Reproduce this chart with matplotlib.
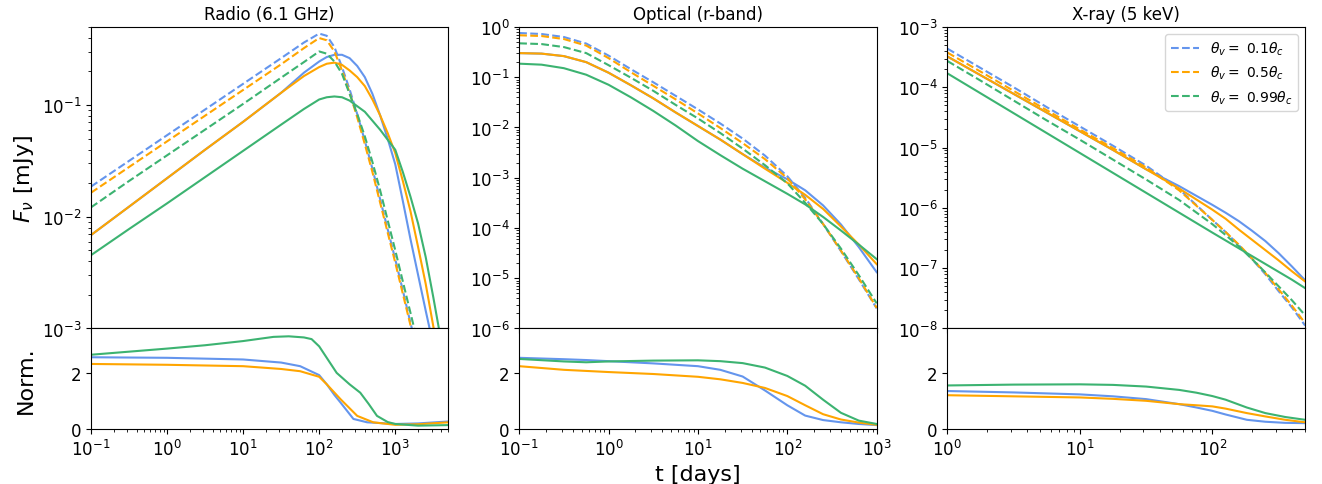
import numpy as np
import matplotlib.pyplot as plt

# colours for the three viewing angles
colors = ['cornflowerblue', 'orange', 'mediumseagreen']
labels = [r'$\theta_v = $ 0.1$\theta_c$', r'$\theta_v = $ 0.5$\theta_c$', r'$\theta_v = $ 0.99$\theta_c$']

# ---- Radio (6.1 GHz), log10(t/days) and log10(F/mJy)
t_radio = [-1, -0.5, 0, 0.5, 1, 1.5, 1.8, 2.0, 2.1, 2.2, 2.3, 2.4, 2.5, 2.6, 2.7, 2.8,
           2.9, 3.0, 3.1, 3.2, 3.3, 3.4, 3.5, 3.6, 3.7]
radio_dash_blue = [-1.73, -1.50, -1.27, -1.04, -0.81, -0.58, -0.44, -0.36, -0.38, -0.48, -0.66,
                   -0.86, -1.08, -1.32, -1.57, -1.84, -2.11, -2.38, -2.66, -2.95, -3.22, -3.5,
                   -3.8, -4.1, -4.4]
radio_dash_orange = [-1.785, -1.555, -1.325, -1.095, -0.865, -0.635, -0.49, -0.40, -0.42, -0.52,
                     -0.69, -0.89, -1.11, -1.35, -1.60, -1.87, -2.14, -2.41, -2.69, -2.97, -3.24,
                     -3.5, -3.8, -4.1, -4.4]
radio_dash_green = [-1.916, -1.68, -1.45, -1.22, -0.99, -0.755, -0.615, -0.52, -0.54, -0.61, -0.72,
                    -0.90, -1.08, -1.28, -1.51, -1.76, -2.03, -2.30, -2.58, -2.86, -3.14, -3.42,
                    -3.7, -4.0, -4.3]
radio_solid_blue = [-2.164, -1.91, -1.655, -1.40, -1.15, -0.89, -0.71, -0.61, -0.57, -0.55, -0.55,
                    -0.58, -0.65, -0.75, -0.90, -1.09, -1.30, -1.53, -1.86, -2.20, -2.52, -2.84,
                    -3.15, -3.5, -3.8]
radio_solid_orange = [-2.164, -1.91, -1.655, -1.40, -1.15, -0.89, -0.74, -0.66, -0.63, -0.62, -0.64,
                      -0.69, -0.75, -0.83, -0.95, -1.09, -1.25, -1.43, -1.68, -1.95, -2.27, -2.6,
                      -2.98, -3.35, -3.7]
radio_solid_green = [-2.344, -2.11, -1.88, -1.645, -1.41, -1.175, -1.035, -0.95, -0.93, -0.923,
                     -0.93, -0.96, -1.01, -1.06, -1.14, -1.22, -1.31, -1.40, -1.60, -1.82, -2.06,
                     -2.36, -2.72, -3.1, -3.45]

# radio normalised ratio
tr_radio_blue = [-1, 0, 1, 1.5, 1.75, 2.0, 2.1, 2.2, 2.28, 2.45, 2.63, 3.0, 3.3, 3.7]
ratio_radio_blue = [2.57, 2.55, 2.49, 2.38, 2.25, 1.93, 1.6, 1.22, 0.95, 0.36, 0.24, 0.18, 0.2, 0.27]
tr_radio_orange = [-1, 0, 1, 1.5, 1.75, 2.0, 2.1, 2.28, 2.5, 2.71, 3.0, 3.3, 3.7]
ratio_radio_orange = [2.33, 2.30, 2.25, 2.15, 2.07, 1.87, 1.6, 1.07, 0.47, 0.24, 0.15, 0.17, 0.24]
tr_radio_green = [-1, -0.5, 0, 0.5, 1.0, 1.4, 1.6, 1.8, 1.9, 2.0, 2.23, 2.4, 2.54, 2.65, 2.76,
                  2.9, 3.0, 3.3, 3.7]
ratio_radio_green = [2.66, 2.77, 2.88, 3.0, 3.15, 3.30, 3.32, 3.28, 3.22, 2.96, 2.01, 1.6, 1.30,
                     0.9, 0.47, 0.25, 0.18, 0.12, 0.14]

# ---- Optical (r-band)
t_opt = [-1, -0.75, -0.5, -0.25, 0, 0.25, 0.5, 0.75, 1.0, 1.25, 1.5, 1.75, 2.0, 2.2, 2.4, 2.6,
         2.8, 3.0]
opt_dash_blue = [-0.12, -0.14, -0.20, -0.33, -0.57, -0.84, -1.10, -1.37, -1.64, -1.92, -2.22,
                 -2.56, -2.97, -3.40, -3.92, -4.46, -5.02, -5.60]
opt_dash_orange = [-0.165, -0.18, -0.24, -0.37, -0.62, -0.90, -1.17, -1.44, -1.72, -2.01, -2.31,
                   -2.63, -3.01, -3.43, -3.92, -4.45, -5.0, -5.59]
opt_dash_green = [-0.325, -0.34, -0.40, -0.52, -0.76, -1.01, -1.27, -1.55, -1.82, -2.11, -2.42,
                  -2.75, -3.11, -3.50, -3.92, -4.41, -4.94, -5.50]
opt_solid_blue = [-0.52, -0.53, -0.58, -0.70, -0.91, -1.16, -1.42, -1.70, -1.97, -2.24, -2.53,
                  -2.80, -3.03, -3.25, -3.55, -3.93, -4.38, -4.88]
opt_solid_orange = [-0.52, -0.53, -0.58, -0.70, -0.91, -1.16, -1.42, -1.70, -1.97, -2.24, -2.53,
                    -2.82, -3.10, -3.34, -3.62, -3.97, -4.33, -4.72]
opt_solid_green = [-0.73, -0.75, -0.82, -0.95, -1.15, -1.40, -1.67, -1.96, -2.27, -2.55, -2.82,
                   -3.07, -3.32, -3.53, -3.78, -4.05, -4.33, -4.62]

t_opt_ratio = [-1, -0.5, -0.25, 0, 0.5, 1.0, 1.25, 1.5, 1.75, 2.0, 2.2, 2.4, 2.6, 2.8, 3.0]
ratio_opt_blue = [2.55, 2.50, 2.47, 2.43, 2.35, 2.25, 2.12, 1.88, 1.38, 0.85, 0.48, 0.32, 0.24,
                  0.18, 0.14]
ratio_opt_orange = [2.25, 2.12, 2.08, 2.04, 1.97, 1.87, 1.78, 1.65, 1.47, 1.18, 0.85, 0.53, 0.34,
                    0.23, 0.15]
ratio_opt_green = [2.51, 2.42, 2.39, 2.42, 2.45, 2.46, 2.43, 2.36, 2.2, 1.9, 1.55, 1.05, 0.58,
                   0.30, 0.18]

# ---- X-ray (5 keV)
t_xray = [0, 0.25, 0.5, 0.75, 1.0, 1.25, 1.5, 1.75, 2.0, 2.1, 2.2, 2.3, 2.4, 2.5, 2.6, 2.7]
xray_dash_blue = [-3.36, -3.68, -4.0, -4.33, -4.65, -4.97, -5.30, -5.69, -6.2, -6.40, -6.62,
                  -6.85, -7.10, -7.38, -7.65, -7.95]
xray_dash_orange = [-3.425, -3.74, -4.06, -4.38, -4.70, -5.01, -5.33, -5.71, -6.2, -6.40, -6.61,
                    -6.84, -7.08, -7.35, -7.62, -7.91]
xray_dash_green = [-3.565, -3.89, -4.22, -4.55, -4.87, -5.20, -5.53, -5.87, -6.27, -6.45, -6.64,
                   -6.85, -7.07, -7.30, -7.53, -7.78]
xray_solid_blue = [-3.49, -3.80, -4.11, -4.42, -4.73, -5.04, -5.36, -5.64, -5.95, -6.08, -6.22,
                   -6.38, -6.55, -6.75, -6.97, -7.20]
xray_solid_orange = [-3.49, -3.80, -4.11, -4.42, -4.73, -5.04, -5.36, -5.68, -6.03, -6.18, -6.36,
                     -6.53, -6.70, -6.87, -7.05, -7.22]
xray_solid_green = [-3.77, -4.10, -4.43, -4.76, -5.09, -5.42, -5.75, -6.08, -6.41, -6.54, -6.67,
                    -6.80, -6.93, -7.06, -7.19, -7.33]

t_xray_ratio = [0, 0.5, 1.0, 1.25, 1.5, 1.75, 1.88, 2.0, 2.1, 2.26, 2.4, 2.55, 2.7]
ratio_xray_blue = [1.36, 1.31, 1.24, 1.17, 1.07, 0.89, 0.77, 0.65, 0.52, 0.33, 0.26, 0.22, 0.21]
ratio_xray_orange = [1.21, 1.17, 1.13, 1.08, 1.01, 0.89, 0.85, 0.81, 0.73, 0.57, 0.45, 0.33, 0.24]
ratio_xray_green = [1.56, 1.59, 1.60, 1.58, 1.52, 1.40, 1.30, 1.18, 1.05, 0.77, 0.57, 0.43, 0.33]

panels = [
    dict(title='Radio (6.1 GHz)', t=t_radio, xlim=(0.1, 5000), ylim=(1e-3, 0.5),
         dash=[radio_dash_blue, radio_dash_orange, radio_dash_green],
         solid=[radio_solid_blue, radio_solid_orange, radio_solid_green],
         rt=[tr_radio_blue, tr_radio_orange, tr_radio_green],
         ratio=[ratio_radio_blue, ratio_radio_orange, ratio_radio_green]),
    dict(title='Optical (r-band)', t=t_opt, xlim=(0.1, 1000), ylim=(1e-6, 1),
         dash=[opt_dash_blue, opt_dash_orange, opt_dash_green],
         solid=[opt_solid_blue, opt_solid_orange, opt_solid_green],
         rt=[t_opt_ratio] * 3,
         ratio=[ratio_opt_blue, ratio_opt_orange, ratio_opt_green]),
    dict(title='X-ray (5 keV)', t=t_xray, xlim=(1, 500), ylim=(1e-8, 1e-3),
         dash=[xray_dash_blue, xray_dash_orange, xray_dash_green],
         solid=[xray_solid_blue, xray_solid_orange, xray_solid_green],
         rt=[t_xray_ratio] * 3,
         ratio=[ratio_xray_blue, ratio_xray_orange, ratio_xray_green]),
]

fig, axes = plt.subplots(2, 3, figsize=(13.22, 4.85), dpi=100, sharex='col',
                         gridspec_kw={'height_ratios': [3, 1]})
fig.subplots_adjust(left=0.0688, right=0.9871, top=0.9423, bottom=0.1134, wspace=0.198, hspace=0)

for j, p in enumerate(panels):
    ax = axes[0, j]
    axr = axes[1, j]
    t = 10 ** np.array(p['t'])
    for k in range(3):
        ax.plot(t, 10 ** np.array(p['dash'][k]), '--', color=colors[k], label=labels[k])
        ax.plot(t, 10 ** np.array(p['solid'][k]), '-', color=colors[k])
        axr.plot(10 ** np.array(p['rt'][k]), p['ratio'][k], '-', color=colors[k])
    ax.set_xscale('log')
    ax.set_yscale('log')
    ax.set_xlim(*p['xlim'])
    ax.set_ylim(*p['ylim'])
    ax.set_title(p['title'], fontsize=12)
    ax.tick_params(labelsize=12)
    axr.set_ylim(0, 3.6)
    axr.set_yticks([0, 2])
    axr.tick_params(labelsize=12)

axes[0, 0].set_ylabel(r'$F_\nu$ [mJy]', fontsize=16)
axes[1, 0].set_ylabel('Norm.', fontsize=16)
axes[1, 1].set_xlabel('t [days]', fontsize=16)
axes[0, 2].legend(loc='upper right', fontsize=10)
fig.align_ylabels(axes[:, 0])

plt.savefig('out.png')
